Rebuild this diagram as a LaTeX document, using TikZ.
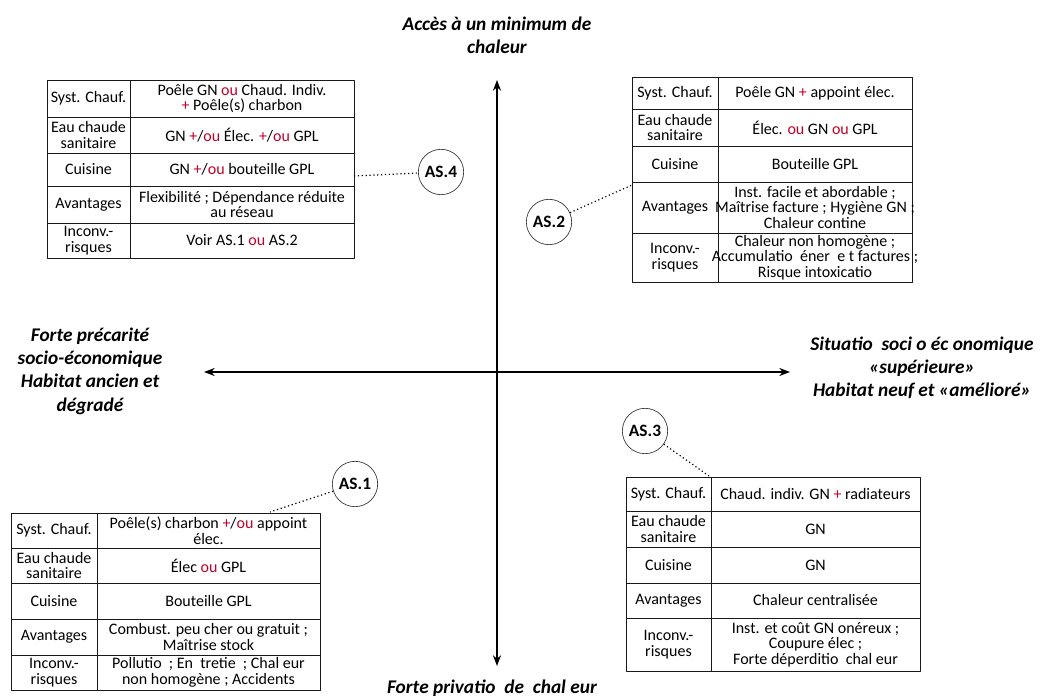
\documentclass[tikz,border=0pt]{standalone}
\usepackage{fontspec}
\setmainfont{Carlito}
\usetikzlibrary{arrows.meta}
\definecolor{oured}{RGB}{192,0,40}
\newcommand{\ou}{\textcolor{oured}{ou}}
\newcommand{\pls}{\textcolor{oured}{+}}
% one row of a table: name, x left, x middle, x right, y top, y bottom, left text, right text
\newcommand{\tabrow}[8]{%
  \draw[grid] (#2,#5) rectangle (#4,#6);
  \draw[grid] (#3,#5) -- (#3,#6);
  \node[cell] (#1l) at ({(#2+#3)/2},{(#5+#6)/2}) {#7};
  \node[cell] (#1r) at ({(#3+#4)/2},{(#5+#6)/2}) {#8};}
\tikzset{
  grid/.style={line width=0.7pt, draw=black!90},
  cell/.style={align=center, inner sep=0pt, font=\fontsize{12}{11.6}\selectfont},
  axlabel/.style={align=center, inner sep=0pt, font=\fontsize{14.5}{17.5}\selectfont\bfseries\itshape},
  tag/.style={circle, draw=black!80, line width=0.5pt, minimum size=34pt, inner sep=0pt, font=\fontsize{13}{13}\selectfont\bfseries},
  link/.style={line width=0.9pt, dotted}
}
\begin{document}
\begin{tikzpicture}[x=0.75pt, y=-0.75pt, >={Stealth[length=8pt,width=6pt]}, line join=round]
	\useasboundingbox (0,0) rectangle (1040,698);
	% axes
	\coordinate (N) at (497,80);
	\coordinate (S) at (497,666);
	\coordinate (W) at (204,372);
	\coordinate (E) at (790,372);
	\draw[<->, line width=1.3pt] (S) -- (N);
	\draw[<->, line width=1.3pt] (W) -- (E);
	\node[axlabel] (top) at (497,35) {Accès à un minimum de\\chaleur};
	\node[axlabel] (left) at (90,371) {Forte précarité\\socio-économique\\Habitat ancien et\\dégradé};
	\node[axlabel] (right) at (922,368) {Situatio\ \ soci o éc onomique\\«supérieure»\\Habitat neuf et «amélioré»};
	\node[axlabel] (bottom) at (492,688) {Forte privatio\ \ de\ \ chal eur};
	% AS.4
	\tabrow{a4s}{47}{130}{354}{80}{117}{Syst. Chauf.}{Poêle GN \ou{} Chaud. Indiv.\\\pls{} Poêle(s) charbon}
	\tabrow{a4e}{47}{130}{354}{117}{153}{Eau chaude\\sanitaire}{GN \pls/\ou{} Élec. \pls/\ou{} GPL}
	\tabrow{a4c}{47}{130}{354}{153}{186}{Cuisine}{GN \pls/\ou{} bouteille GPL}
	\tabrow{a4a}{47}{130}{354}{186}{223}{Avantages}{Flexibilité ; Dépendance réduite\\au réseau}
	\tabrow{a4i}{47}{130}{354}{223}{258}{Inconv.-\\risques}{Voir AS.1 \ou{} AS.2}
	\node[tag] (as4) at (441,172) {AS.4};
	\coordinate (t4e) at (354,176);
	\draw[link] (t4e) -- (as4);
	% AS.2
	\tabrow{a2s}{632}{718}{912}{77}{109}{Syst. Chauf.}{Poêle GN \pls{} appoint élec.}
	\tabrow{a2e}{632}{718}{912}{109}{146}{Eau chaude\\sanitaire}{Élec. \ou{} GN \ou{} GPL}
	\tabrow{a2c}{632}{718}{912}{146}{182}{Cuisine}{Bouteille GPL}
	\tabrow{a2a}{632}{718}{912}{182}{233}{Avantages}{Inst. facile et abordable ;\\Maîtrise facture ; Hygiène GN ;\\Chaleur contine}
	\tabrow{a2i}{632}{718}{912}{233}{282}{Inconv.-\\risques}{Chaleur non homogène ;\\Accumulatio\ \ éner\ \ e t factures ;\\Risque intoxicatio}
	\node[tag] (as2) at (549,222) {AS.2};
	\coordinate (t2e) at (632,185);
	\draw[link] (as2) -- (t2e);
	% AS.1
	\tabrow{a1s}{11}{97}{320}{513}{548}{Syst. Chauf.}{Poêle(s) charbon \pls/\ou{} appoint\\élec.}
	\tabrow{a1e}{11}{97}{320}{548}{583}{Eau chaude\\sanitaire}{Élec \ou{} GPL}
	\tabrow{a1c}{11}{97}{320}{583}{619}{Cuisine}{Bouteille GPL}
	\tabrow{a1a}{11}{97}{320}{619}{655}{Avantages}{Combust. peu cher ou gratuit ;\\Maîtrise stock}
	\tabrow{a1i}{11}{97}{320}{655}{690}{Inconv.-\\risques}{Pollutio\ \ ; En\ \ tretie\ \ ; Chal eur\\non homogène ; Accidents}
	\node[tag] (as1) at (355,484) {AS.1};
	\coordinate (t1e) at (270,512);
	\draw[link] (as1) -- (t1e);
	% AS.3
	\tabrow{a3s}{626}{711}{920}{477}{511}{Syst. Chauf.}{Chaud. indiv. GN \pls{} radiateurs}
	\tabrow{a3e}{626}{711}{920}{511}{547}{Eau chaude\\sanitaire}{GN}
	\tabrow{a3c}{626}{711}{920}{547}{583}{Cuisine}{GN}
	\tabrow{a3a}{626}{711}{920}{583}{618}{Avantages}{Chaleur centralisée}
	\tabrow{a3i}{626}{711}{920}{618}{671}{Inconv.-\\risques}{Inst. et coût GN onéreux ;\\Coupure élec ;\\Forte déperditio\ \ chal eur}
	\node[tag] (as3) at (645,431) {AS.3};
	\coordinate (t3e) at (709,476);
	\draw[link] (as3) -- (t3e);
\end{tikzpicture}
\end{document}
